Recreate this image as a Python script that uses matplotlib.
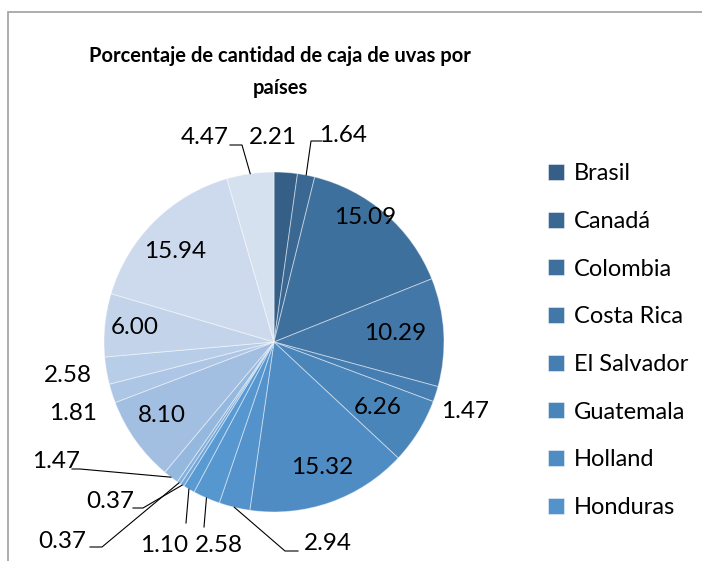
import matplotlib
matplotlib.use('Agg')
import matplotlib.pyplot as plt
from matplotlib.patches import Rectangle
import numpy as np

plt.rcParams['font.family'] = ['Lato', 'DejaVu Sans']

# datos (porcentajes, en sentido horario desde las 12)
valores = [2.21, 1.64, 15.09, 10.29, 1.47, 6.26, 15.32, 2.94, 2.58, 1.10,
           0.37, 0.37, 1.47, 8.10, 1.81, 2.58, 6.00, 15.94, 4.47]
paises = ['Brasil', 'Canadá', 'Colombia', 'Costa Rica', 'El Salvador',
          'Guatemala', 'Holland', 'Honduras']

colores = ['#365F88', '#3A6893', '#3E709D', '#4277A7', '#467EB1', '#4A85BA',
           '#4F8CC3', '#5492CB', '#5797CF', '#5A9AD3', '#6FA5D8', '#84B0DC',
           '#95B8DF', '#A2BEE1', '#AEC6E5', '#B8CDE7', '#C3D4EA', '#CDDAED',
           '#D6E1F0']

CX, CY, R = 274, 342, 170


def px(x, y):
    return ((x - CX) / R, (CY - y) / R)


# posiciones de etiquetas (pixeles de la imagen) y codo de la guia
dentro = {2: (365, 217), 3: (395, 333), 5: (378, 407), 6: (322, 468),
          13: (162, 415), 16: (135, 327), 17: (175, 252)}
fuera = {
    0: ((273, 137), None),
    1: ((343, 135), [(311, 141), (322, 141)]),
    4: ((465, 411), None),
    7: ((328, 543), [(285, 551), (298, 551)]),
    8: ((219, 546), [(204, 527)]),
    9: ((164, 546), [(186, 523)]),
    10: ((110, 502), [(143, 508), (133, 508)]),
    11: ((62, 541), [(102, 547), (90, 547)]),
    12: ((56, 461), [(80, 469), (72, 469)]),
    14: ((73, 414), None),
    15: ((68, 375), None),
    18: ((205, 137), [(242, 145), (230, 145)]),
}

fig = plt.figure(figsize=(7.02, 5.61), dpi=100)
fig.patches.append(Rectangle((8 / 702, -0.1), 1.2, 1.1 - 12 / 561,
                             transform=fig.transFigure, fill=False,
                             edgecolor='#A0A0A0', lw=1.2))

ax = fig.add_axes([(CX - R) / 702, (561 - CY - R) / 561, 2 * R / 702, 2 * R / 561])
wedges, _ = ax.pie(valores, colors=colores, startangle=90, counterclock=False,
                   wedgeprops=dict(edgecolor=(1, 1, 1, 0.45), linewidth=0.7))
ax.set_xlim(-1, 1)
ax.set_ylim(-1, 1)
ax.set_aspect('equal')
ax.axis('off')

etiquetas = [f'{v:.2f}' for v in valores]
for i, pos in dentro.items():
    ax.text(*px(*pos), etiquetas[i], ha='center', va='center', fontsize=17.5)

for i, (pos, codo) in fuera.items():
    ax.text(*px(*pos), etiquetas[i], ha='center', va='center', fontsize=17.5,
            clip_on=False)
    if codo:
        w = wedges[i]
        ang = np.deg2rad((w.theta1 + w.theta2) / 2)
        pts = [(np.cos(ang), np.sin(ang))] + [px(*p) for p in codo]
        xs, ys = zip(*pts)
        ax.plot(xs, ys, color='black', lw=0.8, clip_on=False)

fig.legend(wedges[:8], paises, loc='upper left',
           bbox_to_anchor=(527 / 702, 1 - 142 / 561), frameon=False,
           fontsize=17, handlelength=0.65, handleheight=0.65,
           handletextpad=0.45, labelspacing=1.13)

fig.text(280 / 702, 1 - 72 / 561,
         'Porcentaje de cantidad de caja de uvas por\npaíses',
         ha='center', va='center', fontsize=14.5, weight='bold', linespacing=1.7)

fig.savefig('out.png', dpi=100)
